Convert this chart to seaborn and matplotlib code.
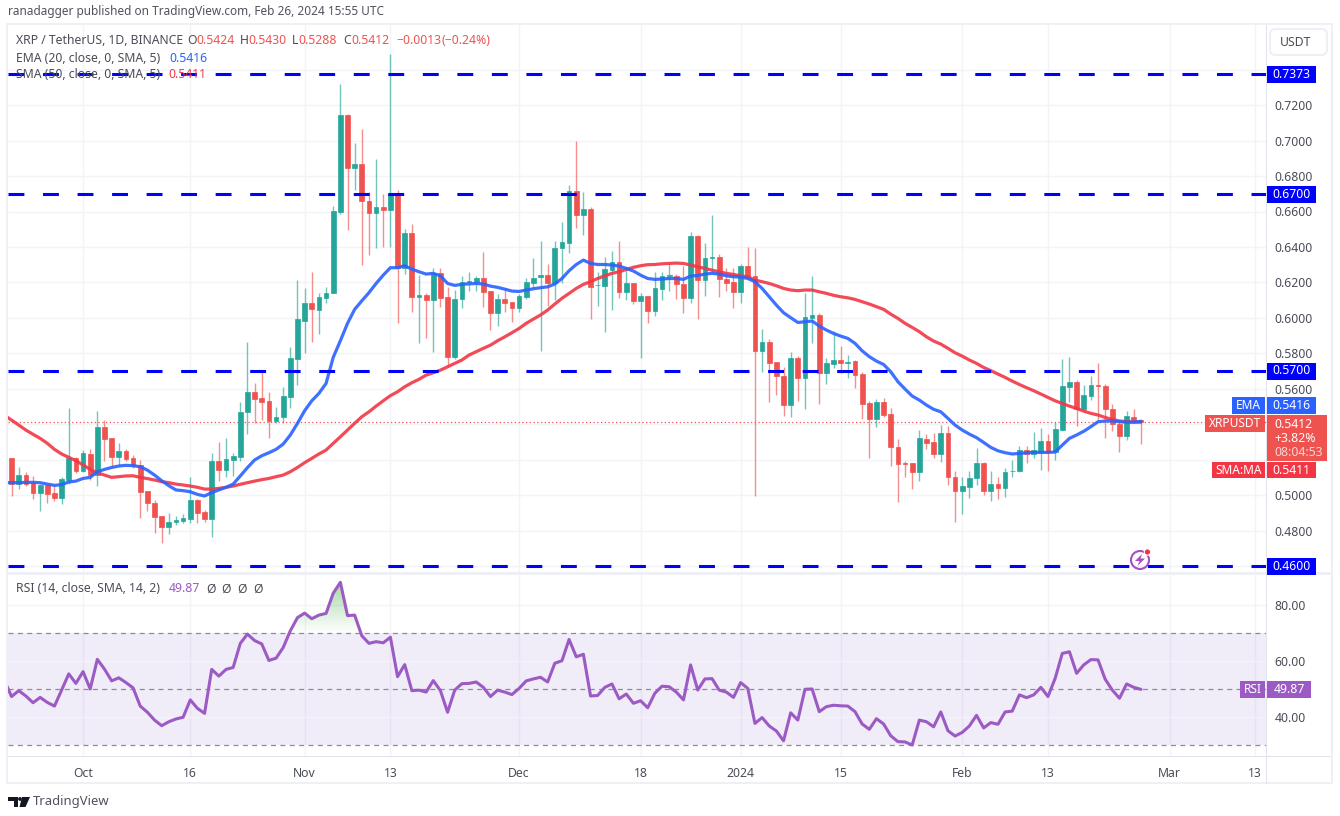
import numpy as np
import pandas as pd
import matplotlib
matplotlib.use("Agg")
import matplotlib.pyplot as plt
import matplotlib.dates as mdates
from matplotlib.colors import LinearSegmentedColormap
from matplotlib.patches import Rectangle, FancyBboxPatch, Circle, Polygon
from matplotlib.transforms import IdentityTransform
import seaborn as sns

# XRP/USDT daily candles
opens = [.5207,.5062,.5115,.5066,.5014,.5055,.5010,.4984,.5085,.5209,
         .5138,.5232,.5113,.5384,.5320,.5217,.5250,.5209,.5168,.5023,
         .4957,.4882,.4822,.4846,.4856,.4867,.4972,.4906,.4867,.5192,
         .5141,.5198,.5217,.5467,.5580,.5546,.5529,.5420,.5438,.5555,
         .5769,.5984,.6081,.6044,.6110,.6142,.6598,.7147,.6847,.6867,
         .6660,.6589,.6623,.6608,.6698,.6283,.6476,.6115,.6128,.6100,
         .6254,.6115,.5781,.6104,.6205,.6202,.6226,.6151,.6029,.6106,
         .6087,.6053,.6119,.6198,.6232,.6243,.6198,.6392,.6420,.6715,
         .6578,.6612,.6183,.6179,.6269,.6313,.6147,.6198,.6095,.6123,
         .6038,.6164,.6236,.6237,.6192,.6113,.6461,.6213,.6338,.6345,
         .6222,.6204,.6147,.6292,.6237,.5814,.5865,.5752,.5674,.5508,
         .5771,.5658,.6001,.6016,.5687,.5739,.5762,.5747,.5756,.5681,
         .5517,.5429,.5527,.5457,.5273,.5183,.5179,.5128,.5318,.5301,
         .5232,.5348,.5100,.5025,.5047,.5094,.5179,.5025,.5062,.5042,
         .5134,.5134,.5254,.5230,.5241,.5307,.5241,.5367,.5611,.5640,
         .5485,.5559,.5621,.5617,.5485,.5399,.5333,.5442,.5424]
highs = [.5207,.5160,.5132,.5108,.5062,.5062,.5057,.5100,.5489,.5217,
         .5254,.5260,.5476,.5423,.5320,.5292,.5258,.5226,.5198,.5023,
         .4972,.4882,.4901,.4882,.4893,.5104,.4978,.4916,.5235,.5301,
         .5320,.5239,.5527,.5862,.5634,.5692,.5580,.5499,.5608,.5837,
         .6214,.6166,.6256,.6143,.6175,.6630,.7322,.7150,.6989,.7063,
         .6709,.6895,.6696,.7490,.6721,.6499,.6529,.6241,.6138,.6284,
         .6279,.6175,.6157,.6236,.6256,.6236,.6373,.6151,.6134,.6166,
         .6087,.6134,.6226,.6335,.6435,.6301,.6435,.6538,.6749,.6997,
         .6711,.6623,.6260,.6345,.6378,.6435,.6288,.6198,.6138,.6123,
         .6260,.6260,.6311,.6245,.6292,.6482,.6465,.6420,.6583,.6360,
         .6279,.6279,.6301,.6401,.6392,.5935,.5880,.5752,.5724,.5809,
         .5786,.6143,.6237,.6029,.5771,.5927,.5841,.5790,.5762,.5696,
         .5531,.5540,.5546,.5493,.5314,.5194,.5179,.5367,.5343,.5352,
         .5395,.5390,.5138,.5104,.5138,.5267,.5185,.5138,.5104,.5151,
         .5198,.5279,.5279,.5354,.5376,.5343,.5410,.5767,.5781,.5649,
         .5621,.5673,.5743,.5626,.5512,.5423,.5474,.5484,.5430]
lows = [.4995,.5032,.5051,.4978,.4908,.4957,.4968,.4948,.5062,.5126,
        .5132,.5085,.5053,.5192,.5160,.5164,.5192,.5151,.4873,.4912,
        .4784,.4728,.4780,.4831,.4841,.4844,.4844,.4850,.4762,.5081,
        .5104,.5109,.5192,.5344,.5405,.5423,.5320,.5405,.5405,.5489,
        .5621,.5799,.5861,.5909,.6085,.6138,.6585,.6495,.6721,.6298,
        .6354,.6395,.6401,.6397,.5969,.6247,.6031,.5856,.5884,.5806,
        .6059,.5728,.5766,.6053,.6151,.6151,.6059,.5931,.5954,.6034,
        .5978,.6034,.6106,.6166,.5814,.6068,.6100,.6198,.6367,.6508,
        .6467,.5993,.6067,.5920,.6047,.6113,.6100,.6078,.5774,.5969,
        .6010,.6100,.6151,.6106,.6030,.6081,.5993,.6123,.6251,.6119,
        .6151,.6053,.6081,.6237,.4995,.5696,.5523,.5564,.5448,.5438,
        .5531,.5484,.5856,.5512,.5626,.5715,.5687,.5658,.5606,.5427,
        .5211,.5386,.5442,.5164,.4961,.5104,.5036,.5081,.5258,.5207,
        .5188,.5057,.4850,.4893,.4985,.5057,.5000,.4967,.4976,.4991,
        .5100,.5132,.5183,.5211,.5141,.5136,.5198,.5367,.5525,.5391,
        .5467,.5536,.5423,.5320,.5361,.5245,.5311,.5405,.5288]
closes = [.5062,.5115,.5062,.5014,.5055,.5006,.4984,.5093,.5211,.5138,
          .5235,.5113,.5384,.5314,.5213,.5250,.5203,.5164,.5019,.4957,
          .4878,.4822,.4846,.4859,.4871,.4972,.4901,.4867,.5192,.5141,
          .5202,.5220,.5470,.5580,.5542,.5525,.5420,.5442,.5557,.5771,
          .5993,.6081,.6048,.6115,.6143,.6604,.7144,.6847,.6869,.6660,
          .6589,.6623,.6608,.6698,.6283,.6476,.6115,.6128,.6100,.6254,
          .6113,.5781,.6104,.6202,.6209,.6226,.6145,.6029,.6106,.6081,
          .6053,.6123,.6204,.6226,.6239,.6198,.6395,.6429,.6715,.6580,
          .6612,.6175,.6185,.6273,.6313,.6147,.6198,.6095,.6123,.6038,
          .6170,.6237,.6239,.6189,.6113,.6461,.6213,.6337,.6341,.6222,
          .6198,.6145,.6292,.6237,.5814,.5865,.5747,.5672,.5508,.5771,
          .5658,.6002,.6016,.5687,.5743,.5762,.5747,.5749,.5677,.5514,
          .5429,.5527,.5452,.5269,.5175,.5175,.5128,.5320,.5292,.5232,
          .5348,.5100,.5025,.5051,.5098,.5179,.5025,.5062,.5042,.5132,
          .5136,.5254,.5230,.5254,.5307,.5241,.5373,.5617,.5640,.5485,
          .5563,.5621,.5617,.5485,.5399,.5333,.5446,.5424,.5412]

# indicator lines start one day earlier, they run off the left edge
ema20 = [.5070,
         .5070,.5070,.5072,.5072,.5070,.5062,.5055,.5059,.5074,.5079,
         .5094,.5100,.5132,.5145,.5156,.5164,.5168,.5166,.5160,.5141,
         .5113,.5081,.5053,.5029,.5025,.5019,.5004,.4995,.5014,.5029,
         .5044,.5062,.5108,.5155,.5198,.5222,.5239,.5258,.5288,.5339,
         .5405,.5476,.5532,.5574,.5630,.5777,.5871,.5969,.6048,.6096,
         .6142,.6194,.6241,.6283,.6283,.6294,.6275,.6260,.6247,.6251,
         .6237,.6194,.6183,.6189,.6192,.6194,.6191,.6179,.6172,.6162,
         .6151,.6149,.6157,.6164,.6170,.6175,.6191,.6222,.6266,.6301,
         .6326,.6307,.6301,.6301,.6298,.6292,.6279,.6264,.6241,.6222,
         .6217,.6219,.6222,.6222,.6217,.6236,.6239,.6247,.6251,.6247,
         .6237,.6232,.6230,.6222,.6204,.6166,.6119,.6072,.6029,.6001,
         .5974,.5978,.5982,.5954,.5931,.5912,.5897,.5884,.5856,.5814,
         .5781,.5756,.5737,.5696,.5640,.5598,.5559,.5536,.5508,.5484,
         .5470,.5433,.5395,.5367,.5344,.5324,.5297,.5269,.5250,.5239,
         .5232,.5235,.5239,.5241,.5241,.5241,.5243,.5282,.5320,.5339,
         .5360,.5386,.5414,.5418,.5418,.5414,.5412,.5412,.5416]
sma50 = [.5450,
         .5423,.5395,.5367,.5343,.5320,.5292,.5258,.5232,.5213,.5194,
         .5170,.5145,.5126,.5113,.5100,.5104,.5108,.5109,.5100,.5093,
         .5085,.5076,.5070,.5062,.5057,.5051,.5044,.5034,.5034,.5038,
         .5044,.5051,.5061,.5070,.5079,.5087,.5094,.5104,.5113,.5132,
         .5156,.5183,.5207,.5232,.5254,.5292,.5329,.5367,.5405,.5442,
         .5470,.5502,.5532,.5561,.5583,.5611,.5634,.5653,.5677,.5690,
         .5705,.5724,.5743,.5762,.5790,.5809,.5828,.5846,.5871,.5893,
         .5916,.5940,.5969,.5993,.6016,.6044,.6078,.6110,.6138,.6166,
         .6189,.6204,.6222,.6237,.6251,.6260,.6273,.6285,.6294,.6300,
         .6301,.6305,.6307,.6309,.6307,.6298,.6288,.6279,.6269,.6260,
         .6251,.6245,.6237,.6232,.6213,.6204,.6194,.6181,.6166,.6157,
         .6153,.6157,.6157,.6147,.6138,.6127,.6119,.6113,.6104,.6091,
         .6078,.6063,.6048,.6021,.5997,.5969,.5946,.5922,.5893,.5869,
         .5852,.5828,.5803,.5784,.5762,.5743,.5720,.5702,.5683,.5664,
         .5643,.5624,.5606,.5589,.5570,.5551,.5532,.5517,.5502,.5489,
         .5474,.5461,.5452,.5438,.5427,.5418,.5414,.5412,.5411]
rsi14 = [53.0,
         47.3,49.4,47.5,45.1,47.0,45.2,43.9,49.6,55.4,52.0,
         56.2,50.0,60.6,57.1,52.9,54.0,52.3,50.4,43.9,41.7,
         38.9,36.9,38.3,39.3,39.9,46.1,43.1,41.3,57.0,54.6,
         57.0,57.7,66.3,69.6,67.3,66.1,60.2,61.0,64.8,70.8,
         75.5,77.1,75.1,76.4,77.0,84.2,88.1,76.2,76.4,69.0,
         66.3,66.9,66.5,68.5,54.4,58.7,49.4,49.6,48.9,53.0,
         49.4,41.7,49.6,51.9,52.0,52.5,50.6,47.3,49.6,48.9,
         48.0,50.2,52.9,53.6,54.2,52.5,59.2,60.1,67.7,61.5,
         62.4,47.5,47.7,50.6,51.8,46.5,48.2,44.9,45.8,43.3,
         48.5,51.0,50.8,48.9,46.1,58.6,49.6,53.6,53.7,49.6,
         48.9,47.0,52.3,50.2,37.7,39.8,36.8,35.0,31.5,41.5,
         38.9,49.9,50.0,41.9,43.7,44.2,44.0,43.9,41.9,37.5,
         35.6,39.4,37.5,33.3,31.2,31.1,30.0,38.9,38.3,36.5,
         41.8,35.1,33.2,34.5,36.8,40.6,36.1,38.0,37.4,41.8,
         42.1,47.9,46.9,47.9,50.6,47.3,53.8,62.7,63.3,55.6,
         58.6,60.5,60.4,53.5,49.6,46.7,51.8,50.6,49.87]

levels = [0.7373, 0.6700, 0.5700, 0.4600]
last_close = 0.5412
price_grid = [0.46, 0.48, 0.50, 0.52, 0.54, 0.56, 0.58, 0.60, 0.62, 0.64, 0.66, 0.68, 0.70, 0.72, 0.74]
price_ticks = [0.48, 0.50, 0.56, 0.58, 0.60, 0.62, 0.64, 0.66, 0.68, 0.70, 0.72]
rsi_ticks = [80, 60, 40]
tick_dates = ["2023-10-01", "2023-10-16", "2023-11-01", "2023-11-13", "2023-12-01", "2023-12-18",
              "2024-01-01", "2024-01-15", "2024-02-01", "2024-02-13", "2024-03-01", "2024-03-13"]
tick_labels = ["Oct", "16", "Nov", "13", "Dec", "18", "2024", "15", "Feb", "13", "Mar", "13"]

UP, DOWN = "#26a69a", "#ef5350"
BLUE, RED = "#2962ff", "#f23645"
PURPLE = "#9c5bc4"
ICON = "#a64fc4"
GRID = "#f3f4f8"
FRAME = "#eef0f6"
TEXT = "#4a4d57"

sns.set_theme(style="white")
plt.rcParams["font.family"] = ["Noto Sans", "DejaVu Sans"]

df = pd.DataFrame({"date": pd.date_range("2023-09-21", periods=len(opens)),
                   "open": opens, "high": highs, "low": lows, "close": closes})
df["color"] = np.where(df["close"] >= df["open"], UP, DOWN)
lines = pd.DataFrame({"date": pd.date_range("2023-09-20", periods=len(ema20)),
                      "ema": ema20, "sma": sma50, "rsi": rsi14})

W, H = 1340, 816
fig = plt.figure(figsize=(W / 100, H / 100), dpi=100, facecolor="white")


def px_rect(x0, y0, x1, y1):
    return [x0 / W, 1 - y1 / H, (x1 - x0) / W, (y1 - y0) / H]


def px_text(x, y, s, color=TEXT, size=8.6, ha="left", **kw):
    return fig.text(x / W, 1 - y / H, s, color=color, fontsize=size, ha=ha, va="center", **kw)


def px_box(x0, y0, x1, y1, color, zorder=2):
    fig.add_artist(Rectangle((x0 / W, 1 - y1 / H), (x1 - x0) / W, (y1 - y0) / H, transform=fig.transFigure,
                             facecolor=color, edgecolor="none", zorder=zorder))


def px_poly(pts, color, zorder=2):
    fig.add_artist(Polygon([(x / W, 1 - y / H) for x, y in pts], closed=True, transform=fig.transFigure,
                           facecolor=color, edgecolor="none", zorder=zorder))


ax = fig.add_axes(px_rect(8, 25, 1266, 573))
ax_rsi = fig.add_axes(px_rect(8, 575, 1266, 756), sharex=ax)

# price pane
for t in tick_dates:
    ax.axvline(pd.Timestamp(t), color=GRID, lw=1, zorder=0)
    ax_rsi.axvline(pd.Timestamp(t), color=GRID, lw=1, zorder=0)
for p in price_grid:
    ax.axhline(p, color=GRID, lw=1, zorder=0)

ax.vlines(df["date"], df["low"], df["high"], colors=df["color"], lw=1.0, alpha=0.65, zorder=2)
ax.bar(df["date"], (df["close"] - df["open"]).abs(), bottom=df[["open", "close"]].min(axis=1),
       width=0.66, color=df["color"], edgecolor=df["color"], linewidth=0.5, zorder=3)
sns.lineplot(data=lines, x="date", y="ema", ax=ax, color=BLUE, linewidth=2.3, alpha=0.9, zorder=5, errorbar=None)
sns.lineplot(data=lines, x="date", y="sma", ax=ax, color=RED, linewidth=2.3, alpha=0.9, zorder=4, errorbar=None)

ax.axhline(last_close, color=DOWN, lw=0.9, ls=(0, (1, 2)), zorder=2)
for lvl in levels:
    ax.axhline(lvl, color="#0000ff", lw=2.2, ls=(0, (5.2, 6.1)), zorder=6)

ax.set_ylim(0.46 - 7 / 1772.5, 0.46 + 541 / 1772.5)
ax.set_xlim(pd.Timestamp("2023-09-20 12:00"), pd.Timestamp("2024-03-14 12:00"))
ax.yaxis.tick_right()
ax.set_yticks(price_ticks)
ax.set_yticklabels([f"{p:.4f}" for p in price_ticks])
ax.tick_params(axis="y", length=0, pad=6, labelsize=8.8, labelcolor=TEXT)
ax.tick_params(axis="x", length=0, labelbottom=False)
ax.set_xlabel("")
ax.set_ylabel("")

# RSI pane
ax_rsi.axhspan(30, 70, color="#7e57c2", alpha=0.11, lw=0, zorder=0)
for v in [70, 50, 30]:
    ax_rsi.axhline(v, color="#8a8d97", lw=0.9, ls=(0, (4, 3.5)), zorder=1)
for v in rsi_ticks:
    ax_rsi.axhline(v, color=GRID, lw=1, zorder=0)
sns.lineplot(data=lines, x="date", y="rsi", ax=ax_rsi, color=PURPLE, linewidth=2.2, zorder=4, errorbar=None)

ax_rsi.set_ylim(80 - 151 / 2.8, 80 + 30 / 2.8)
ax_rsi.set_xlim(ax.get_xlim())

# green fade where RSI is over 70
over = ax_rsi.fill_between(lines["date"], lines["rsi"], 70, where=lines["rsi"] > 70, interpolate=True, color="none")
x0, x1 = ax_rsi.get_xlim()
fade = LinearSegmentedColormap.from_list("fade", [(0.30, 0.69, 0.31, 0.5), (0.30, 0.69, 0.31, 0.0)])
im = ax_rsi.imshow(np.linspace(0, 1, 64).reshape(-1, 1), extent=[x0, x1, 70, 88.1], origin="upper", aspect="auto",
                   cmap=fade, zorder=2)
im.set_clip_path(over.get_paths()[0], transform=ax_rsi.transData)
ax_rsi.set_xlim(x0, x1)
ax_rsi.set_ylim(80 - 151 / 2.8, 80 + 30 / 2.8)

ax_rsi.yaxis.tick_right()
ax_rsi.set_yticks(rsi_ticks)
ax_rsi.set_yticklabels([f"{v:.2f}" for v in rsi_ticks])
ax_rsi.tick_params(axis="y", length=0, pad=6, labelsize=8.8, labelcolor=TEXT)
ax_rsi.set_xticks([mdates.date2num(pd.Timestamp(t)) for t in tick_dates])
ax_rsi.set_xticklabels(tick_labels)
ax_rsi.tick_params(axis="x", length=0, pad=8, labelsize=8.8, labelcolor=TEXT)
for lab in ax_rsi.get_xticklabels():
    if lab.get_text() == "2024":
        lab.set_fontweight("bold")
ax_rsi.set_xlabel("")
ax_rsi.set_ylabel("")

for a in (ax, ax_rsi):
    for s in a.spines.values():
        s.set_visible(False)
    a.patch.set_alpha(0)

# frame and separators
px_box(6, 23, 1333, 25, FRAME, 1)
px_box(6, 782, 1333, 784, FRAME, 1)
px_box(6, 23, 8, 784, FRAME, 1)
px_box(1331, 23, 1333, 784, FRAME, 1)
px_box(8, 572, 1331, 575, FRAME, 1)
px_box(8, 756, 1331, 757, "#e0e3eb", 1)
px_box(1266, 25, 1267, 784, "#e0e3eb", 1)

# header texts
px_text(8, 12, "ranadagger published on TradingView.com, Feb 26, 2024 15:55 UTC", color="#50535e", size=8.5)
px_text(16, 40, "XRP / TetherUS, 1D, BINANCE", size=8.8)
for xpos, s, c in [(187, "O", TEXT), (196, "0.5424", DOWN), (240, "H", TEXT), (248, "0.5430", DOWN),
                   (292, "L", TEXT), (298, "0.5288", DOWN), (343, "C", TEXT), (351, "0.5412", DOWN),
                   (396, "\u22120.0013", DOWN), (441, "(\u22120.24%)", DOWN)]:
    px_text(xpos, 40, s, color=c, size=8.8)
px_text(16, 58, "EMA (20, close, 0, SMA, 5)", size=8.8)
px_text(169, 58, "0.5416", color=BLUE, size=8.8)
px_text(16, 75, "SMA (50, close, 0, SMA, 5)", size=8.8)
px_text(168, 75, "0.5411", color=RED, size=8.8)
px_text(16, 589, "RSI (14, close, SMA, 14, 2)", size=8.8)
px_text(169, 589, "49.87", color=PURPLE, size=8.8)
for xpos in [211, 226, 242, 258]:
    px_text(xpos, 589, "\u00d8", size=8.8, ha="center")

# price scale tags
for lvl, ytag in zip(levels, [74, 194, 371, 566]):
    px_box(1267, ytag - 8, 1316, ytag + 9, "#0000ff", 4)
    px_text(1291.5, ytag, f"{lvl:.4f}", color="white", size=8.8, ha="center", fontweight="bold", zorder=5)
px_box(1232, 397, 1265, 414, BLUE, 4)
px_text(1248.5, 405.5, "EMA", color="white", size=8.6, ha="center", zorder=5)
px_box(1267, 397, 1316, 414, BLUE, 4)
px_text(1291.5, 405.5, "0.5416", color="white", size=8.8, ha="center", zorder=5)
px_box(1205, 415, 1265, 432, DOWN, 4)
px_text(1235, 423.5, "XRPUSDT", color="white", size=8.6, ha="center", zorder=5)
px_box(1267, 415, 1327, 461, DOWN, 4)
px_text(1274, 424, "0.5412", color="white", size=8.8, zorder=5)
px_text(1274, 438, "+3.82%", color="white", size=8.8, zorder=5)
px_text(1274, 452, "08:04:53", color="#fbd5d4", size=8.8, zorder=5)
px_box(1212, 462, 1265, 478, RED, 4)
px_text(1238.5, 470.5, "SMA:MA", color="white", size=8.6, ha="center", zorder=5)
px_box(1267, 462, 1316, 478, RED, 4)
px_text(1291.5, 470.5, "0.5411", color="white", size=8.8, ha="center", zorder=5)
px_box(1240, 681, 1265, 698, PURPLE, 4)
px_text(1252.5, 689.5, "RSI", color="white", size=8.6, ha="center", zorder=5)
px_box(1267, 681, 1311, 698, PURPLE, 4)
px_text(1289, 689.5, "49.87", color="white", size=8.8, ha="center", zorder=5)

# USDT button
fig.add_artist(FancyBboxPatch((1270 / W, 1 - 55 / H), 57 / W, 26 / H, boxstyle="round,pad=0,rounding_size=0.004",
                              mutation_aspect=W / H, transform=fig.transFigure, facecolor="white",
                              edgecolor=FRAME, lw=1.5, zorder=6))
px_text(1296, 43, "USDT", size=8.8, ha="center", zorder=7)

# lightning icon
fig.add_artist(Circle((1140, H - 560), 9, facecolor="none", edgecolor=ICON, lw=1.5, zorder=6,
                      transform=IdentityTransform()))
fig.add_artist(Circle((1147.5, H - 552), 3.2, facecolor="#f23645", edgecolor="white", lw=0.8, zorder=7,
                      transform=IdentityTransform()))
px_poly([(1142, 554), (1135, 561), (1139.5, 561), (1137.5, 566), (1145, 558.5), (1140.5, 558.5)], ICON, 7)

# TradingView logo
px_poly([(8, 797), (18, 797), (18, 807), (13.5, 807), (13.5, 801), (8, 801)], "#131722")
px_poly([(22, 797), (30, 797), (25.5, 807), (19.5, 807)], "#131722")
fig.add_artist(Circle((20, H - 799), 1.9, facecolor="#131722", edgecolor="none", transform=IdentityTransform()))
px_text(33, 802, "TradingView", color="#50535e", size=9.4)

fig.savefig("out.png", dpi=100, facecolor="white")
